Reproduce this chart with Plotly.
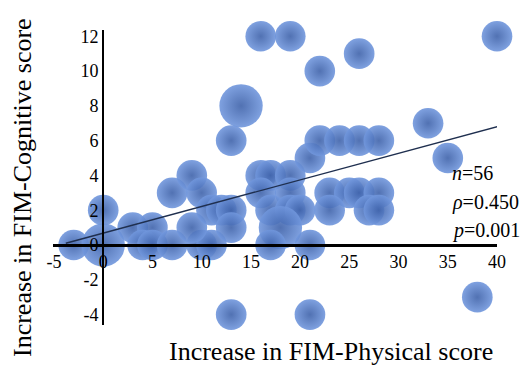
import plotly.graph_objects as go

# FIM-Physical increase (x), FIM-Cognitive increase (y), number of patients per bubble
phys = [-3, 0, 0, 3, 5, 4, 5, 7, 10, 11, 9, 7, 9, 10, 11, 12, 13, 13, 13, 13,
        14, 16, 19, 22, 26, 40, 16, 17, 19, 16, 19, 17, 19, 20, 18, 17, 21, 21,
        21, 22, 24, 26, 28, 23, 25, 26, 28, 23, 27, 28, 33, 35, 38]
cogn = [0, 0, 2, 1, 1, 0, 0, 0, 0, 0, 1, 3, 4, 3, 2, 2, 2, 1, -4, 6,
        8, 12, 12, 10, 11, 12, 4, 4, 4, 3, 3, 2, 2, 2, 1, 0, 0, -4,
        5, 6, 6, 6, 6, 3, 3, 3, 3, 2, 2, 2, 7, 5, -3]
count = [1, 2, 1, 1, 1, 1, 1, 1, 1, 1, 1, 1, 1, 1, 1, 1, 1, 1, 1, 1,
         2, 1, 1, 1, 1, 1, 1, 1, 1, 1, 1, 1, 1, 1, 2, 1, 1, 1,
         1, 1, 1, 1, 1, 1, 1, 1, 1, 1, 1, 1, 1, 1, 1]

# linear trend line end points
trend_x = [-3.8, 41.3]
trend_y = [0.1, 7.0]

x_ticks = [-5, 0, 5, 10, 15, 20, 25, 30, 35, 40]
y_ticks = [-4, -2, 0, 2, 4, 6, 8, 10, 12]

stats = ["<i>n</i>=56", "<i>ρ</i>=0.450", "<i>p</i>=0.001"]

XR = [-5.1, 40]
YR = [-4.6, 12.36]

FONT = "Liberation Serif"

fig = go.Figure()
fig.add_trace(go.Scatter(
    x=phys, y=cogn, mode="markers",
    marker=dict(size=count, sizemode="area", sizeref=1 / 470,
                color="#7197dd", opacity=0.9,
                gradient=dict(type="radial", color="#3e62aa"),
                line=dict(width=0)),
    cliponaxis=False, hoverinfo="skip", showlegend=False))
fig.add_trace(go.Scatter(
    x=trend_x, y=trend_y, mode="lines",
    line=dict(color="#1f2f4f", width=1.4),
    cliponaxis=False, hoverinfo="skip", showlegend=False))

fig.update_layout(
    width=531, height=370,
    margin=dict(l=53, r=34, t=30, b=45),
    paper_bgcolor="white", plot_bgcolor="white",
    font=dict(family=FONT, color="black", size=18),
    xaxis=dict(range=XR, tickvals=x_ticks, ticktext=[str(v) for v in x_ticks],
               showgrid=False, zeroline=False, showline=True, linecolor="black",
               linewidth=2.5, ticks="", anchor="free",
               position=(0 - YR[0]) / (YR[1] - YR[0]), side="bottom",
               layer="above traces",
               tickfont=dict(family=FONT, size=18, color="black")),
    yaxis=dict(range=YR, tickvals=y_ticks, ticktext=[str(v) for v in y_ticks],
               showgrid=False, zeroline=False, showline=True, linecolor="black",
               linewidth=2, ticks="", anchor="free",
               position=(0 - XR[0]) / (XR[1] - XR[0]), side="left",
               layer="above traces",
               tickfont=dict(family=FONT, size=18, color="black")),
)

fig.add_annotation(text="Increase in FIM-Physical score", xref="paper", yref="paper",
                   x=(331 - 53) / 444, y=(325 - 351) / 295, showarrow=False,
                   xanchor="center", yanchor="middle",
                   font=dict(family=FONT, size=26, color="black"))
fig.add_annotation(text="Increase in FIM-Cognitive score", xref="paper", yref="paper",
                   x=(22 - 53) / 444, y=(325 - 188) / 295, showarrow=False, textangle=-90,
                   xanchor="center", yanchor="middle",
                   font=dict(family=FONT, size=26, color="black"))
for s, ypx in zip(stats, [173, 202, 230]):
    fig.add_annotation(text=s, xref="paper", yref="paper",
                       x=(450 - 53) / 444, y=(325 - ypx) / 295, showarrow=False,
                       xanchor="left", yanchor="middle",
                       font=dict(family=FONT, size=20, color="black"))

fig.write_html("out.html")
